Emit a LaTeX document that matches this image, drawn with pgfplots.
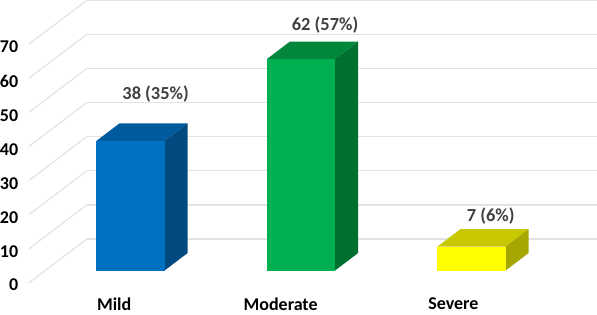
\documentclass[border=0pt]{standalone}
\usepackage{pgfplots}
\pgfplotsset{compat=1.18}
\usepackage{fontspec}
\setmainfont{Carlito}
\definecolor{gridc}{HTML}{E3E3E3}
\definecolor{lab}{HTML}{404040}
\begin{document}
\begin{tikzpicture}[x=1pt,y=1pt]
\path[use as bounding box] (0,0) rectangle (597,314);
\begin{axis}[
  at={(114pt,31pt)},anchor=origin,
  x={(170.5pt,0pt)},y={(58pt,44pt)},z={(0pt,3.41pt)},
  xmin=-0.5,xmax=2.5,ymin=0,ymax=1,zmin=0,zmax=70,
  clip=false,
  axis line style={draw=none},
  major tick length=0pt,
  xtick={0.03,1.006,2.018},xticklabels={Mild,Moderate,Severe},
  ytick=\empty,
  ztick={0,10,...,70},
  zmajorgrids=true,
  major grid style={gridc,line width=1.2pt},
  tick label style={font=\fontsize{18}{18}\selectfont\bfseries,text=black},
  x tick label style={yshift=-11.5pt},
  z tick label style={xshift=-7pt,yshift=1.5pt},
  /pgf/number format/assume math mode=true,
]
% Mild
\addplot3[draw=none,fill={rgb,255:red,0;green,90;blue,158}] coordinates {(-0.2,0.284,38)(0.2,0.284,38)(0.2,0.682,38)(-0.2,0.682,38)} -- cycle;
\addplot3[draw=none,fill={rgb,255:red,0;green,74;blue,128}] coordinates {(0.2,0.284,0)(0.2,0.682,0)(0.2,0.682,38)(0.2,0.284,38)} -- cycle;
\addplot3[draw=none,fill={rgb,255:red,0;green,112;blue,192}] coordinates {(-0.2,0.284,0)(0.2,0.284,0)(0.2,0.284,38)(-0.2,0.284,38)} -- cycle;
% Moderate
\addplot3[draw=none,fill={rgb,255:red,0;green,135;blue,60}] coordinates {(0.8,0.284,62)(1.2,0.284,62)(1.2,0.682,62)(0.8,0.682,62)} -- cycle;
\addplot3[draw=none,fill={rgb,255:red,0;green,112;blue,48}] coordinates {(1.2,0.284,0)(1.2,0.682,0)(1.2,0.682,62)(1.2,0.284,62)} -- cycle;
\addplot3[draw=none,fill={rgb,255:red,0;green,176;blue,80}] coordinates {(0.8,0.284,0)(1.2,0.284,0)(1.2,0.284,62)(0.8,0.284,62)} -- cycle;
% Severe
\addplot3[draw=none,fill={rgb,255:red,200;green,200;blue,0}] coordinates {(1.8,0.284,7)(2.2,0.284,7)(2.2,0.682,7)(1.8,0.682,7)} -- cycle;
\addplot3[draw=none,fill={rgb,255:red,166;green,166;blue,0}] coordinates {(2.2,0.284,0)(2.2,0.682,0)(2.2,0.682,7)(2.2,0.284,7)} -- cycle;
\addplot3[draw=none,fill={rgb,255:red,255;green,255;blue,0}] coordinates {(1.8,0.284,0)(2.2,0.284,0)(2.2,0.284,7)(1.8,0.284,7)} -- cycle;
\node[text=lab,font=\fontsize{18.4}{18}\selectfont\bfseries] at (axis cs:0.012,0.682,46.5) {38 (35\%)};
\node[text=lab,font=\fontsize{18.4}{18}\selectfont\bfseries] at (axis cs:1.006,0.682,66.8) {62 (57\%)};
\node[text=lab,font=\fontsize{18.4}{18}\selectfont\bfseries] at (axis cs:1.977,0.682,10.9) {7 (6\%)};
\end{axis}
\end{tikzpicture}
\end{document}
